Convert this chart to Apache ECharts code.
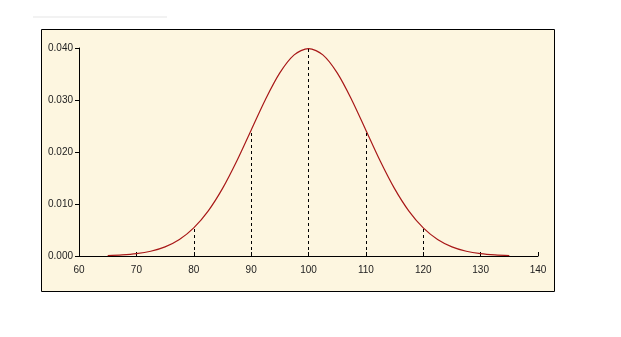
<!DOCTYPE html>
<html><head><meta charset="utf-8">
<script src="https://cdn.jsdelivr.net/npm/echarts@6/dist/echarts.min.js"></script>
<style>html,body{margin:0;padding:0;background:#fff}#c{width:621px;height:337px}</style>
</head><body><div id="c"></div>
<script>
var xValues = [65,67.5,70,72.5,75,77.5,80,82.5,85,87.5,90,92.5,95,97.5,100,102.5,105,107.5,110,112.5,115,117.5,120,122.5,125,127.5,130,132.5,135];
var densities = [0.00009,0.0002,0.00044,0.00091,0.00175,0.00317,0.0054,0.00863,0.01295,0.01827,0.0242,0.03011,0.03521,0.03867,0.03989,0.03867,0.03521,0.03011,0.0242,0.01827,0.01295,0.00863,0.0054,0.00317,0.00175,0.00091,0.00044,0.0002,0.00009];
var dropX = [80,90,100,110,120];
var dropY = [0.0054,0.0242,0.03989,0.0242,0.0054];
var xTicks = [60,70,80,90,100,110,120,130,140];
var yTicks = ['0.000','0.010','0.020','0.030','0.040'];

var chart = echarts.init(document.getElementById('c'), null, {renderer:'canvas'});
var font = 'Liberation Sans';
chart.setOption({
  animation:false,
  backgroundColor:'#ffffff',
  graphic:[
    {type:'rect', z:-10, shape:{x:41.5,y:29.5,width:513,height:262}, style:{fill:'#fdf6e0',stroke:'#000',lineWidth:1}},
    {type:'rect', z:-10, shape:{x:33,y:16,width:134,height:2}, style:{fill:'#f2f2f2'}}
  ],
  grid:{left:79,right:83,top:48,bottom:81},
  xAxis:{type:'value',min:60,max:140,interval:10,
    axisLine:{show:true,onZero:false,lineStyle:{color:'#000',width:1}},
    axisTick:{show:true,inside:true,length:4,lineStyle:{color:'#000'}},
    axisLabel:{color:'#222',fontFamily:font,fontSize:10,margin:9},
    splitLine:{show:false}},
  yAxis:{type:'value',min:0,max:0.04,interval:0.01,
    axisLine:{show:true,lineStyle:{color:'#000',width:1}},
    axisTick:{show:true,length:4,lineStyle:{color:'#000'}},
    axisLabel:{color:'#222',fontFamily:font,fontSize:10,margin:6,formatter:function(v){return v.toFixed(3);}},
    splitLine:{show:false}},
  series:[{type:'line',data:xValues.map(function(x,i){return [x,densities[i]];}),
    smooth:0.3,showSymbol:false,lineStyle:{color:'#a81818',width:1.2},
    markLine:{silent:true,symbol:'none',label:{show:false},
      lineStyle:{color:'#000',type:[3,3],width:1},
      data:dropX.map(function(x,i){return [{coord:[x,0]},{coord:[x,dropY[i]]}];})}}]
});
</script></body></html>
